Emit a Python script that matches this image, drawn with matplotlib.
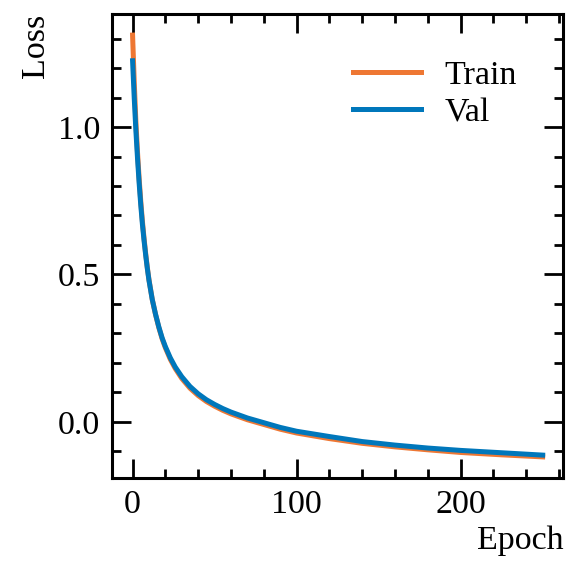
import matplotlib
matplotlib.use("Agg")
import matplotlib.pyplot as plt
from matplotlib.ticker import MultipleLocator

epochs = [0, 1, 2, 3, 4, 5, 6, 7, 8, 9, 10, 12, 14, 16, 18, 20, 23, 26, 30, 35,
          40, 45, 50, 55, 60, 70, 80, 90, 100, 120, 140, 160, 180, 200, 225, 250]
train_loss = [1.312, 1.155, 1.02, 0.915, 0.825, 0.748, 0.68, 0.622, 0.57, 0.523,
              0.482, 0.415, 0.364, 0.32, 0.282, 0.251, 0.212, 0.181, 0.147, 0.114,
              0.089, 0.069, 0.053, 0.039, 0.027, 0.007, -0.009, -0.025, -0.038,
              -0.057, -0.073, -0.085, -0.095, -0.104, -0.112, -0.119]
val_loss = [1.225, 1.10, 0.99, 0.895, 0.81, 0.735, 0.67, 0.615, 0.565, 0.52,
            0.48, 0.415, 0.365, 0.322, 0.285, 0.255, 0.217, 0.186, 0.153, 0.12,
            0.095, 0.075, 0.059, 0.045, 0.033, 0.013, -0.003, -0.019, -0.032,
            -0.050, -0.067, -0.079, -0.089, -0.097, -0.105, -0.113]

plt.rcParams['font.family'] = ['Liberation Serif', 'DejaVu Serif']
plt.rcParams['mathtext.fontset'] = 'stix'

FS = 24.5

fig = plt.figure(figsize=(5.66, 5.61), dpi=100)
ax = fig.add_axes([0.198, 0.148, 0.797, 0.827])

ax.plot(epochs, train_loss, color='#EE7733', lw=3.6, label='Train')
ax.plot(epochs, val_loss, color='#0077BB', lw=3.6, label='Val')

ax.xaxis.set_major_locator(MultipleLocator(100))
ax.xaxis.set_minor_locator(MultipleLocator(20))
ax.yaxis.set_major_locator(MultipleLocator(0.5))
ax.yaxis.set_minor_locator(MultipleLocator(0.1))
ax.yaxis.set_major_formatter(matplotlib.ticker.FormatStrFormatter('%.1f'))

ax.tick_params(which='both', direction='in', top=True, right=True,
               width=2.0, labelsize=FS)
ax.tick_params(which='major', length=13.4, pad=8.5)
ax.tick_params(which='minor', length=6.7)
for s in ax.spines.values():
    s.set_linewidth(2.2)

ax.set_xlabel('Epoch', fontsize=FS, loc='right', labelpad=4)
ax.set_ylabel('Loss', fontsize=FS, loc='top', labelpad=5)

ax.legend(frameon=False, fontsize=FS, loc='upper right', handlelength=2.0,
          handletextpad=0.7, labelspacing=0.2, borderaxespad=0.95)

fig.savefig('out.png', dpi=100)
